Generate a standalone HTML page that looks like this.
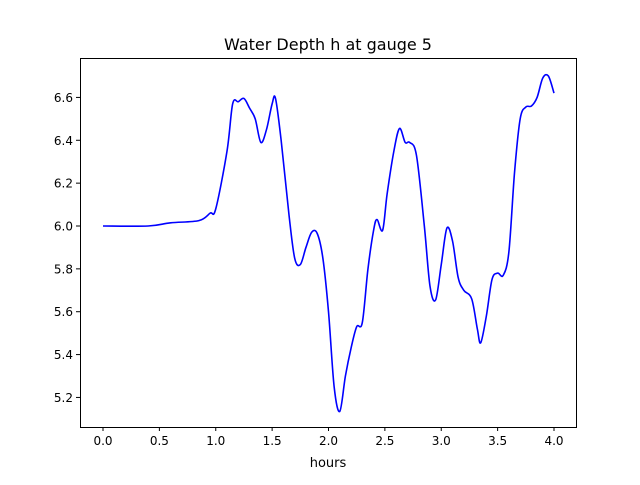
<!DOCTYPE html>
<html><head><meta charset="utf-8"><style>
body{margin:0;background:#fff}
svg text{font-family:"DejaVu Sans","Liberation Sans",sans-serif;fill:#000}
</style></head><body>
<svg id="s" width="640" height="480" xmlns="http://www.w3.org/2000/svg">
<rect width="640" height="480" fill="#fff"/>
<text x="328" y="50" font-size="16" text-anchor="middle">Water Depth h at gauge 5</text>
<text x="328" y="467" font-size="13" text-anchor="middle">hours</text>
<g id="ax"></g>
<path id="ln" fill="none" stroke="#0000ff" stroke-width="1.6" stroke-linejoin="round"/>
<rect x="80.5" y="58.5" width="496" height="369" fill="none" stroke="#000" stroke-width="1"/>
</svg>
<script>
var X=function(h){return 103+h*112.75},Y=function(v){return 226-(v-6)*214.3};
var g=document.getElementById('ax'),s='';
for(var i=0;i<=8;i++){var h=i*0.5,x=X(h);s+='<line x1="'+x+'" y1="427" x2="'+x+'" y2="431" stroke="#000"/><text x="'+x+'" y="445" font-size="12" text-anchor="middle">'+h.toFixed(1)+'</text>';}
for(var i=0;i<=7;i++){var v=5.2+i*0.2,y=Y(v);s+='<line x1="76" y1="'+y+'" x2="80" y2="'+y+'" stroke="#000"/><text x="73" y="'+(y+4.5)+'" font-size="12" text-anchor="end">'+v.toFixed(1)+'</text>';}
g.innerHTML=s;
var d=[[0,6],[0.4,6.0],[0.6,6.015],[0.85,6.025],[0.95,6.06],[1.0,6.08],[1.1,6.35],[1.15,6.57],[1.2,6.58],[1.25,6.595],[1.3,6.55],[1.35,6.5],[1.4,6.39],[1.45,6.45],[1.5,6.57],[1.53,6.595],[1.58,6.4],[1.65,6.05],[1.7,5.85],[1.75,5.82],[1.8,5.9],[1.85,5.97],[1.9,5.965],[1.95,5.85],[2.0,5.6],[2.05,5.25],[2.1,5.135],[2.15,5.3],[2.2,5.43],[2.25,5.53],[2.3,5.55],[2.35,5.8],[2.4,5.98],[2.43,6.03],[2.48,5.98],[2.52,6.15],[2.58,6.35],[2.63,6.455],[2.68,6.39],[2.72,6.39],[2.78,6.33],[2.85,6.0],[2.9,5.72],[2.95,5.655],[3.0,5.82],[3.05,5.99],[3.1,5.93],[3.15,5.76],[3.2,5.7],[3.27,5.66],[3.32,5.52],[3.35,5.455],[3.4,5.58],[3.45,5.75],[3.5,5.78],[3.55,5.77],[3.6,5.88],[3.65,6.25],[3.7,6.5],[3.75,6.555],[3.8,6.56],[3.85,6.6],[3.9,6.69],[3.95,6.7],[4.0,6.62]];
var p=d.map(function(a){return [X(a[0]),Y(a[1])]});
var path='M'+p[0][0]+','+p[0][1];
for(var i=0;i<p.length-1;i++){var p0=p[i-1]||p[i],p1=p[i],p2=p[i+1],p3=p[i+2]||p2;
path+=' C'+(p1[0]+(p2[0]-p0[0])/6)+','+(p1[1]+(p2[1]-p0[1])/6)+' '+(p2[0]-(p3[0]-p1[0])/6)+','+(p2[1]-(p3[1]-p1[1])/6)+' '+p2[0]+','+p2[1];}
document.getElementById('ln').setAttribute('d',path);
</script>
</body></html>
